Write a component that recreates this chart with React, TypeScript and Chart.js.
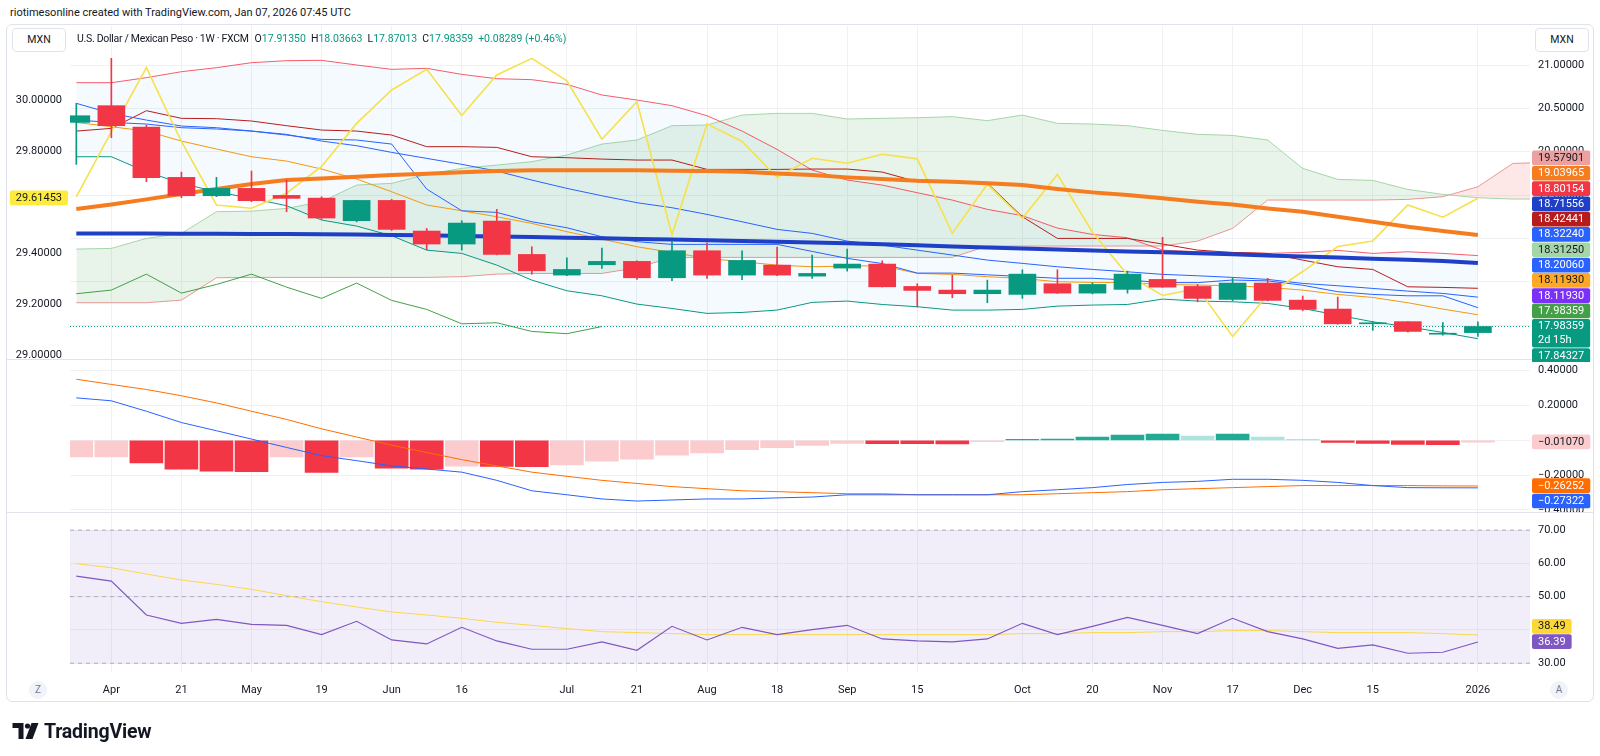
import React, { useEffect, useRef } from 'react';
import { Chart, registerables } from 'chart.js';

Chart.register(...registerables);

// ---------- USD/MXN weekly candles (bar 0 = week of Mar 31, 2025; bar 40 = Jan 5, 2026) ----------
const opens = [20.338, 20.531, 20.285, 19.704, 19.492, 19.577, 19.496, 19.465, 19.204, 19.438, 19.085, 18.935, 19.2, 18.815, 18.577, 18.696, 18.735, 18.546, 18.858, 18.577, 18.692, 18.565, 18.658, 18.704, 18.446, 18.404, 18.362, 18.354, 18.477, 18.369, 18.412, 18.527, 18.446, 18.296, 18.485, 18.288, 18.185, 18.015, 18.04, 17.895, 17.9135];
const highs = [20.558, 21.077, 20.308, 19.765, 19.704, 19.777, 19.673, 19.48, 19.44, 19.45, 19.115, 19.204, 19.335, 18.904, 18.777, 18.888, 18.74, 18.969, 18.95, 18.858, 18.9, 18.808, 18.877, 18.742, 18.477, 18.577, 18.519, 18.638, 18.638, 18.49, 18.623, 19.012, 18.47, 18.55, 18.54, 18.335, 18.323, 18.04, 18.04, 18.03, 18.03663];
const lows = [19.854, 20.162, 19.654, 19.469, 19.481, 19.423, 19.308, 19.223, 19.19, 19.092, 18.869, 18.865, 18.81, 18.588, 18.569, 18.654, 18.527, 18.512, 18.538, 18.523, 18.57, 18.538, 18.623, 18.44, 18.208, 18.315, 18.258, 18.308, 18.365, 18.36, 18.369, 18.435, 18.269, 18.28, 18.28, 18.165, 18.01, 17.94, 17.92, 17.885, 17.87013];
const closes = [20.415, 20.3, 19.7, 19.492, 19.577, 19.435, 19.462, 19.235, 19.438, 19.104, 18.935, 19.177, 18.815, 18.627, 18.642, 18.735, 18.546, 18.858, 18.577, 18.746, 18.577, 18.596, 18.704, 18.442, 18.4, 18.362, 18.404, 18.588, 18.369, 18.469, 18.588, 18.438, 18.308, 18.485, 18.285, 18.181, 18.015, 18.027, 17.927, 17.9007, 17.98359];
const countdownText = '2d 15h';

// ---------- Overlays on the price scale ----------
const maOrange = [19.338, 19.392, 19.45, 19.512, 19.569, 19.627, 19.673, 19.692, 19.712, 19.731, 19.746, 19.762, 19.777, 19.785, 19.785, 19.785, 19.785, 19.781, 19.777, 19.769, 19.75, 19.731, 19.704, 19.685, 19.665, 19.654, 19.635, 19.615, 19.569, 19.531, 19.5, 19.462, 19.423, 19.392, 19.346, 19.308, 19.25, 19.192, 19.135, 19.085, 19.03965];
const maBlue = [19.058, 19.058, 19.057, 19.055, 19.054, 19.052, 19.05, 19.047, 19.044, 19.04, 19.035, 19.028, 19.022, 19.015, 19.008, 19.001, 18.994, 18.987, 18.979, 18.971, 18.962, 18.954, 18.944, 18.932, 18.92, 18.908, 18.896, 18.884, 18.872, 18.861, 18.85, 18.84, 18.828, 18.816, 18.804, 18.791, 18.779, 18.766, 18.753, 18.74, 18.71556];
const emaBlue = [20.365, 20.338, 20.319, 20.277, 20.262, 20.238, 20.2, 20.123, 20.069, 19.992, 19.923, 19.854, 19.777, 19.673, 19.577, 19.492, 19.412, 19.354, 19.277, 19.192, 19.104, 19.058, 18.969, 18.923, 18.865, 18.808, 18.75, 18.712, 18.673, 18.642, 18.615, 18.585, 18.569, 18.55, 18.527, 18.481, 18.454, 18.423, 18.392, 18.365, 18.3224];
const bbUpper = [20.796, 20.796, 20.854, 20.923, 20.969, 21.027, 21.05, 21.054, 21.0, 20.95, 20.962, 20.892, 20.842, 20.831, 20.777, 20.654, 20.596, 20.531, 20.415, 20.238, 20.027, 19.788, 19.673, 19.615, 19.527, 19.442, 19.335, 19.262, 19.119, 19.046, 19.008, 18.865, 18.846, 18.838, 18.827, 18.838, 18.862, 18.827, 18.846, 18.827, 18.80154];
const bbBasis = [20.338, 20.288, 20.238, 20.123, 20.031, 19.942, 19.892, 19.8, 19.685, 19.538, 19.385, 19.319, 19.25, 19.173, 19.077, 18.992, 18.904, 18.838, 18.769, 18.731, 18.692, 18.673, 18.681, 18.685, 18.596, 18.585, 18.558, 18.538, 18.5, 18.492, 18.492, 18.469, 18.462, 18.454, 18.435, 18.404, 18.354, 18.319, 18.258, 18.185, 18.1193];
const bbLower = [19.942, 19.942, 19.769, 19.635, 19.538, 19.462, 19.377, 19.212, 19.142, 19.031, 18.865, 18.827, 18.692, 18.519, 18.396, 18.338, 18.242, 18.192, 18.135, 18.146, 18.173, 18.262, 18.277, 18.238, 18.212, 18.173, 18.173, 18.181, 18.219, 18.231, 18.238, 18.3, 18.277, 18.269, 18.25, 18.192, 18.115, 18.038, 17.981, 17.915, 17.84327];
const smaPurpleLast = 18.1193;

// Ichimoku
const conversionLine = [20.558, 20.442, 20.365, 20.296, 20.277, 20.238, 20.192, 20.142, 20.135, 20.088, 19.569, 19.319, 19.3, 19.192, 19.123, 19.019, 18.962, 18.931, 18.931, 18.931, 18.931, 18.85, 18.77, 18.71, 18.6, 18.6, 18.58, 18.56, 18.54, 18.54, 18.52, 18.49, 18.49, 18.52, 18.51, 18.46, 18.385, 18.354, 18.338, 18.338, 18.2006];
const baseLine = [20.238, 20.269, 20.473, 20.385, 20.381, 20.354, 20.3, 20.25, 20.238, 20.192, 20.058, 20.058, 20.05, 19.942, 19.931, 19.915, 19.904, 19.904, 19.796, 19.796, 19.796, 19.8, 19.8, 19.765, 19.654, 19.654, 19.638, 19.25, 19.0, 19.0, 19.0, 18.935, 18.865, 18.838, 18.827, 18.75, 18.673, 18.642, 18.442, 18.435, 18.42441];
// leading spans, at their plotted (forward-shifted) positions
const leadA = [18.877, 18.885, 19.0, 19.058, 19.308, 19.315, 19.346, 19.423, 19.615, 19.635, 19.738, 19.808, 19.846, 19.885, 19.962, 20.088, 20.135, 20.3, 20.308, 20.423, 20.442, 20.442, 20.377, 20.385, 20.392, 20.404, 20.358, 20.423, 20.327, 20.319, 20.3, 20.246, 20.2, 20.188, 20.135, 19.808, 19.681, 19.669, 19.565, 19.508, 19.469, 19.454, 19.454];
const leadB = [18.258, 18.258, 18.258, 18.288, 18.546, 18.55, 18.55, 18.55, 18.55, 18.55, 18.55, 18.558, 18.588, 18.596, 18.596, 18.596, 18.662, 18.781, 18.781, 18.781, 18.781, 18.781, 18.781, 18.781, 18.781, 18.781, 18.912, 18.912, 18.912, 18.912, 18.912, 18.912, 18.969, 19.115, 19.442, 19.442, 19.442, 19.442, 19.45, 19.481, 19.596, 19.865, 19.877];
const leadAProjected = 18.3125;
const leadBProjected = 19.57901;
const LAGGING_SHIFT = 25;

// Comparison series on the left scale
const compareSeries = [29.62, 29.876, 30.127, 29.837, 29.588, 29.575, 29.634, 29.739, 29.908, 30.039, 30.12, 29.939, 30.098, 30.163, 30.075, 29.846, 29.993, 29.471, 29.906, 29.837, 29.697, 29.771, 29.752, 29.787, 29.769, 29.477, 29.669, 29.536, 29.708, 29.481, 29.314, 29.233, 29.261, 29.072, 29.235, 29.327, 29.425, 29.447, 29.588, 29.54, 29.61453];

// ---------- MACD ----------
const macdLine = [0.244, 0.227, 0.167, 0.102, 0.055, 0.007, -0.041, -0.088, -0.117, -0.147, -0.165, -0.183, -0.23, -0.29, -0.313, -0.337, -0.349, -0.343, -0.337, -0.337, -0.331, -0.326, -0.313, -0.313, -0.313, -0.313, -0.313, -0.295, -0.284, -0.272, -0.254, -0.242, -0.236, -0.224, -0.224, -0.23, -0.242, -0.26, -0.272, -0.273, -0.27322];
const signalLine = [0.351, 0.321, 0.292, 0.256, 0.215, 0.167, 0.12, 0.066, 0.019, -0.028, -0.07, -0.111, -0.147, -0.183, -0.207, -0.23, -0.248, -0.266, -0.278, -0.29, -0.295, -0.301, -0.307, -0.307, -0.313, -0.313, -0.313, -0.313, -0.307, -0.301, -0.295, -0.284, -0.278, -0.272, -0.266, -0.26, -0.26, -0.26, -0.26, -0.262, -0.26252];
const macdHist = [-0.095, -0.095, -0.13, -0.166, -0.178, -0.18, -0.095, -0.184, -0.095, -0.16, -0.166, -0.148, -0.15, -0.152, -0.142, -0.12, -0.108, -0.085, -0.072, -0.054, -0.042, -0.03, -0.018, -0.019, -0.02, -0.021, -0.008, 0.006, 0.007, 0.018, 0.03, 0.036, 0.024, 0.036, 0.018, 0.006, -0.012, -0.018, -0.024, -0.025, -0.0107];

// ---------- RSI ----------
const rsi = [56.2, 54.7, 44.5, 42.0, 43.2, 41.7, 41.4, 38.6, 42.6, 37.0, 35.8, 40.8, 36.7, 34.2, 34.2, 36.4, 33.9, 41.1, 37.0, 40.8, 38.6, 40.1, 41.4, 37.3, 36.7, 36.4, 37.3, 42.0, 38.6, 41.1, 43.8, 41.4, 38.9, 43.5, 39.5, 37.3, 34.5, 35.5, 33.0, 33.3, 36.39];
const rsiMa = [59.9, 58.7, 56.8, 55.0, 53.7, 52.2, 50.3, 48.5, 46.9, 45.4, 44.5, 43.5, 42.3, 41.4, 40.4, 39.5, 39.2, 38.9, 38.6, 38.6, 38.6, 38.6, 38.6, 38.6, 38.6, 38.6, 38.6, 38.9, 38.9, 39.2, 39.2, 39.5, 39.5, 39.8, 39.8, 39.5, 39.2, 39.2, 39.2, 38.9, 38.49];
const rsiLevels = [70, 50, 30];

// ---------- Time axis ----------
const xTickBars = [1, 3, 5, 7, 9, 11, 14, 16, 18, 20, 22, 24, 27, 29, 31, 33, 35, 37, 40];
const xTickLabels = ['Apr', '21', 'May', '19', 'Jun', '16', 'Jul', '21', 'Aug', '18', 'Sep', '15', 'Oct', '20', 'Nov', '17', 'Dec', '15', '2026'];

// ---------- Styling ----------
const FONT = 'Roboto, "Liberation Sans", Arial, sans-serif';
const TEXT = '#131722';
const GRID = '#EFF1F5';
const UP = '#089981';
const DOWN = '#F23645';
const X_MIN = -0.18;
const X_MAX = 41.487;
const N = closes.length;

const pts = (arr: number[], shift = 0) => arr.map((y, i) => ({ x: i + shift, y }));
const fmt = (v: number, d: number) => (v < 0 ? '\u2212' : '') + Math.abs(v).toFixed(d);
const hline = (v: number) => [{ x: X_MIN, y: v }, { x: X_MAX, y: v }];

type Tag = { value: number; bg: string; fg: string; digits: number; sub?: string; anchor?: boolean };

// Last-value tags: the anchored tag sits on its value, the others stack away from it.
function drawTagStack(chart: any, scaleId: string, tags: Tag[], x: number, align: 'left' | 'right' = 'left') {
  const ctx = chart.ctx as CanvasRenderingContext2D;
  const scale = chart.scales[scaleId];
  const H = 15.3;
  const SUB = 14;
  const items = tags.map((t, k) => ({ ...t, k, h: t.sub ? H + SUB : H, y: scale.getPixelForValue(t.value), top: 0 }));
  items.sort((a, b) => b.value - a.value || a.k - b.k);
  let a = items.findIndex((t) => t.anchor);
  if (a < 0) a = 0;
  items[a].top = items[a].y - H / 2;
  for (let k = a - 1; k >= 0; k--) items[k].top = Math.min(items[k].y - H / 2, items[k + 1].top - items[k].h);
  for (let k = a + 1; k < items.length; k++) items[k].top = Math.max(items[k].y - H / 2, items[k - 1].top + items[k - 1].h);
  ctx.save();
  ctx.font = `11px ${FONT}`;
  ctx.textBaseline = 'middle';
  for (const t of items) {
    const text = fmt(t.value, t.digits);
    const w = ctx.measureText(text).width + 12;
    const bx = align === 'left' ? x : x - w;
    ctx.fillStyle = t.bg;
    ctx.beginPath();
    ctx.roundRect(bx, t.top, w, t.h - 0.6, 2);
    ctx.fill();
    ctx.fillStyle = t.fg;
    ctx.textAlign = 'left';
    ctx.fillText(text, bx + 6, t.top + H / 2);
    if (t.sub) ctx.fillText(t.sub, bx + 6, t.top + H / 2 + SUB);
  }
  ctx.restore();
}

function xAxis(showLabels: boolean) {
  return {
    type: 'linear',
    min: X_MIN,
    max: X_MAX,
    offset: false,
    afterBuildTicks: (s: any) => {
      s.ticks = xTickBars.map((v) => ({ value: v }));
    },
    afterFit: (s: any) => {
      s.height = showLabels ? 30 : 0;
      s.paddingLeft = 0;
      s.paddingRight = 0;
    },
    grid: { color: GRID, drawTicks: false, offset: false },
    border: { display: false },
    ticks: {
      display: showLabels,
      autoSkip: false,
      maxRotation: 0,
      minRotation: 0,
      padding: 12,
      color: TEXT,
      font: { family: FONT, size: 11 },
      callback: (_v: any, i: number) => xTickLabels[i],
    },
  };
}

// fixed 70px price column, no extra room reserved for edge labels
const fitPriceAxis = (s: any) => {
  s.width = 70;
  s.paddingTop = 0;
  s.paddingBottom = 0;
};

function yRight(min: number, max: number, step: number, digits: number) {
  return {
    type: 'linear',
    position: 'right',
    min,
    max,
    afterFit: fitPriceAxis,
    grid: { color: GRID, drawTicks: false },
    border: { display: false },
    ticks: {
      stepSize: step,
      includeBounds: false,
      padding: 8,
      color: TEXT,
      font: { family: FONT, size: 11 },
      callback: (v: any) => fmt(Number(v), digits),
    },
  };
}

const line = (label: string, data: any[], color: string, width: number, extra: any = {}) => ({
  type: 'line',
  label,
  data,
  borderColor: color,
  backgroundColor: color,
  borderWidth: width,
  pointRadius: 0,
  pointHoverRadius: 0,
  tension: 0,
  fill: false,
  yAxisID: 'y',
  ...extra,
});

const baseOptions = {
  responsive: false,
  animation: false,
  devicePixelRatio: 1,
  events: [],
  plugins: { legend: { display: false }, tooltip: { enabled: false } },
};

function mainConfig(): any {
  const candleColors = closes.map((c, i) => (c >= opens[i] ? UP : DOWN));
  const datasets: any[] = [
    {
      type: 'bar', label: 'body', yAxisID: 'y', grouped: false, barThickness: 27, borderWidth: 0, minBarLength: 1,
      data: closes.map((c, i) => ({ x: i, y: [opens[i], c] })), backgroundColor: candleColors,
    },
    {
      type: 'bar', label: 'wick', yAxisID: 'y', grouped: false, barThickness: 1, borderWidth: 0,
      data: highs.map((h, i) => ({ x: i, y: [lows[i], h] })), backgroundColor: candleColors,
    },
    line('last', hline(closes[N - 1]), UP, 1, { borderDash: [1, 2] }),
    line('maOrange', pts(maOrange), '#F57C1F', 4),
    line('maBlue', pts(maBlue), '#1E3FC6', 4),
    line('compare', pts(compareSeries), '#F7E14A', 1.6, { yAxisID: 'yl' }),
    line('conversion', pts(conversionLine), '#2962FF', 1),
    line('emaBlue', pts(emaBlue), '#2962FF', 1),
    line('base', pts(baseLine), '#B71C1C', 1),
    line('lagging', closes.slice(LAGGING_SHIFT).map((y, i) => ({ x: i, y })), '#43A047', 1),
    line('bbUpper', pts(bbUpper), 'rgba(242,54,69,0.8)', 1),
    line('bbBasis', pts(bbBasis), '#FF9800', 1),
    line('bbLower', pts(bbLower), '#089981', 1),
    line('leadA', pts(leadA), '#A5D6A7', 1),
    line('leadB', pts(leadB), '#EF9A9A', 1),
  ];
  const at = (l: string) => datasets.findIndex((d) => d.label === l);
  datasets[at('bbUpper')].fill = { target: at('bbLower'), above: 'rgba(33,150,243,0.05)', below: 'rgba(33,150,243,0.05)' };
  datasets[at('leadA')].fill = { target: at('leadB'), above: 'rgba(67,160,71,0.12)', below: 'rgba(244,67,54,0.12)' };

  const tags: Tag[] = [
    { value: leadBProjected, bg: '#EDA0A0', fg: TEXT, digits: 5 },
    { value: maOrange[N - 1], bg: '#F57C1F', fg: '#fff', digits: 5 },
    { value: bbUpper[N - 1], bg: '#F23645', fg: '#fff', digits: 5 },
    { value: maBlue[N - 1], bg: '#1E3FC6', fg: '#fff', digits: 5 },
    { value: baseLine[N - 1], bg: '#B71C1C', fg: '#fff', digits: 5 },
    { value: emaBlue[N - 1], bg: '#2962FF', fg: '#fff', digits: 5 },
    { value: leadAProjected, bg: '#A5D6A7', fg: TEXT, digits: 5 },
    { value: conversionLine[N - 1], bg: '#2962FF', fg: '#fff', digits: 5 },
    { value: bbBasis[N - 1], bg: '#FFA726', fg: TEXT, digits: 5 },
    { value: smaPurpleLast, bg: '#7B2FF7', fg: '#fff', digits: 5 },
    { value: closes[N - 1], bg: '#43A047', fg: '#fff', digits: 5 },
    { value: closes[N - 1], bg: UP, fg: '#fff', digits: 5, sub: countdownText, anchor: true },
    { value: bbLower[N - 1], bg: UP, fg: '#fff', digits: 5 },
  ];

  return {
    data: { datasets },
    options: {
      ...baseOptions,
      layout: { padding: { left: 0, right: 0, top: 0, bottom: 2 }, autoPadding: false },
      scales: {
        x: xAxis(false),
        y: yRight(17.5975, 21.45, 0.5, 5),
        yl: {
          type: 'linear',
          position: 'left',
          min: 28.98,
          max: 30.29,
          afterFit: fitPriceAxis,
          afterBuildTicks: (s: any) => {
            s.ticks = s.ticks.filter((t: any) => t.value <= 30.0001);
          },
          grid: { display: false, drawTicks: false },
          border: { display: false },
          ticks: { stepSize: 0.2, includeBounds: false, padding: 8, color: TEXT, font: { family: FONT, size: 11 }, callback: (v: any) => Number(v).toFixed(5) },
        },
      },
    },
    plugins: [
      {
        id: 'priceTags',
        afterDraw: (chart: any) => {
          drawTagStack(chart, 'y', tags, 1532);
          drawTagStack(chart, 'yl', [{ value: compareSeries[N - 1], bg: '#FFEB3B', fg: TEXT, digits: 5 }], 68, 'right');
        },
      },
    ],
  };
}

function macdConfig(): any {
  const colors = macdHist.map((v, i) => {
    const p = i > 0 ? macdHist[i - 1] : v;
    if (v >= 0) return v >= p ? '#22AB94' : '#ACE5DC';
    return v < p ? '#F23645' : '#FCCBCD';
  });
  const tags: Tag[] = [
    { value: macdHist[N - 1], bg: '#FCCBCD', fg: TEXT, digits: 5, anchor: true },
    { value: signalLine[N - 1], bg: '#FF6D00', fg: '#fff', digits: 5 },
    { value: macdLine[N - 1], bg: '#2962FF', fg: '#fff', digits: 5 },
  ];
  return {
    data: {
      datasets: [
        line('macd', pts(macdLine), '#2962FF', 1),
        line('signal', pts(signalLine), '#FF6D00', 1),
        { type: 'bar', label: 'hist', yAxisID: 'y', barThickness: 33, borderWidth: 0, data: pts(macdHist), backgroundColor: colors },
      ],
    },
    options: {
      ...baseOptions,
      layout: { padding: { left: 70, right: 0, top: 0, bottom: 0 }, autoPadding: false },
      scales: { x: xAxis(false), y: yRight(-0.412, 0.4615, 0.2, 5) },
    },
    plugins: [{ id: 'macdTags', afterDraw: (chart: any) => drawTagStack(chart, 'y', tags, 1532) }],
  };
}

function rsiConfig(): any {
  const lvl = rsiLevels.map((v) => line('lvl' + v, hline(v), 'rgba(120,123,134,0.55)', 1, { borderDash: [4, 4] }));
  const datasets: any[] = [
    line('rsi', pts(rsi), '#7E57C2', 1.2),
    line('rsiMa', pts(rsiMa), '#F9D84A', 1),
    ...lvl,
  ];
  const at = (l: string) => datasets.findIndex((d) => d.label === l);
  datasets[at('lvl70')].fill = { target: at('lvl30'), above: 'rgba(126,87,194,0.1)', below: 'rgba(126,87,194,0.1)' };
  const tags: Tag[] = [
    { value: rsiMa[N - 1], bg: '#FDD835', fg: TEXT, digits: 2 },
    { value: rsi[N - 1], bg: '#7E57C2', fg: '#fff', digits: 2, anchor: true },
  ];
  return {
    data: { datasets },
    options: {
      ...baseOptions,
      layout: { padding: { left: 70, right: 0, top: 0, bottom: 0 }, autoPadding: false },
      scales: { x: xAxis(true), y: yRight(27.37, 75.44, 10, 2) },
    },
    plugins: [{ id: 'rsiTags', afterDraw: (chart: any) => drawTagStack(chart, 'y', tags, 1532) }],
  };
}

function TvLogo() {
  return (
    <div style={{ position: 'absolute', left: 12, top: 719, height: 24, display: 'flex', alignItems: 'center', gap: 5 }}>
      <svg width="27" height="16" viewBox="0 0 26 16">
        <path d="M0 0h11v16H6V5H0z" fill={TEXT} />
        <circle cx="15" cy="3" r="2.6" fill={TEXT} />
        <path d="M19 0h7l-6 16h-7z" fill={TEXT} />
      </svg>
      <span style={{ fontSize: 19.5, fontWeight: 700, color: TEXT, letterSpacing: -0.2 }}>TradingView</span>
    </div>
  );
}

export default function App() {
  const mainRef = useRef<HTMLCanvasElement>(null);
  const macdRef = useRef<HTMLCanvasElement>(null);
  const rsiRef = useRef<HTMLCanvasElement>(null);

  useEffect(() => {
    const charts = [
      new Chart(mainRef.current as HTMLCanvasElement, mainConfig()),
      new Chart(macdRef.current as HTMLCanvasElement, macdConfig()),
      new Chart(rsiRef.current as HTMLCanvasElement, rsiConfig()),
    ];
    return () => charts.forEach((c) => c.destroy());
  }, []);

  const last = N - 1;
  const change = closes[last] - closes[last - 1];
  const pct = (change / closes[last - 1]) * 100;
  const val = { color: UP };

  return (
    <div style={{ position: 'absolute', left: 0, top: 0, width: 1600, height: 756, background: '#fff', overflow: 'hidden', fontFamily: FONT, color: TEXT }}>
      <div style={{ position: 'absolute', left: 10, top: 6, fontSize: 11 }}>
        riotimesonline created with TradingView.com, Jan 07, 2026 07:45 UTC
      </div>
      <div style={{ position: 'absolute', left: 6, top: 24, width: 1586, height: 676, border: '1px solid #E0E3EB', borderRadius: 6 }} />
      <canvas ref={mainRef} width={1600} height={336} style={{ position: 'absolute', left: 0, top: 26 }} />
      <canvas ref={macdRef} width={1600} height={152} style={{ position: 'absolute', left: 0, top: 360 }} />
      <canvas ref={rsiRef} width={1600} height={190} style={{ position: 'absolute', left: 0, top: 512 }} />
      <div style={{ position: 'absolute', left: 7, top: 359, width: 1525, height: 1, background: '#E0E3EB' }} />
      <div style={{ position: 'absolute', left: 7, top: 512, width: 1586, height: 1, background: '#E0E3EB' }} />

      <div style={{ position: 'absolute', left: 12, top: 28, width: 52, height: 22, border: '1px solid #E0E3EB', borderRadius: 4, background: '#fff', fontSize: 10.5, lineHeight: '22px', textAlign: 'center' }}>MXN</div>
      <div style={{ position: 'absolute', left: 1535, top: 28, width: 52, height: 22, border: '1px solid #E0E3EB', borderRadius: 4, background: '#fff', fontSize: 10.5, lineHeight: '22px', textAlign: 'center' }}>MXN</div>

      <div style={{ position: 'absolute', left: 77, top: 31, fontSize: 10.5, whiteSpace: 'nowrap', lineHeight: '16px' }}>
        <span style={{ letterSpacing: -0.3 }}>U.S. Dollar / Mexican Peso · 1W · FXCM</span>
        <span style={{ marginLeft: 6 }}>O<span style={val}>{opens[last].toFixed(5)}</span></span>
        <span style={{ marginLeft: 5 }}>H<span style={val}>{highs[last].toFixed(5)}</span></span>
        <span style={{ marginLeft: 5 }}>L<span style={val}>{lows[last].toFixed(5)}</span></span>
        <span style={{ marginLeft: 5 }}>C<span style={val}>{closes[last].toFixed(5)}</span></span>
        <span style={{ marginLeft: 5, ...val }}>{(change >= 0 ? '+' : '\u2212') + Math.abs(change).toFixed(5)} ({(pct >= 0 ? '+' : '\u2212') + Math.abs(pct).toFixed(2)}%)</span>
      </div>

      <div style={{ position: 'absolute', left: 29, top: 681, width: 18, height: 18, borderRadius: 9, background: '#F0F3FA', color: '#787B86', fontSize: 10, lineHeight: '18px', textAlign: 'center' }}>Z</div>
      <div style={{ position: 'absolute', left: 1550, top: 681, width: 18, height: 18, borderRadius: 9, background: '#F0F3FA', color: '#787B86', fontSize: 10, lineHeight: '18px', textAlign: 'center' }}>A</div>

      <TvLogo />
    </div>
  );
}
